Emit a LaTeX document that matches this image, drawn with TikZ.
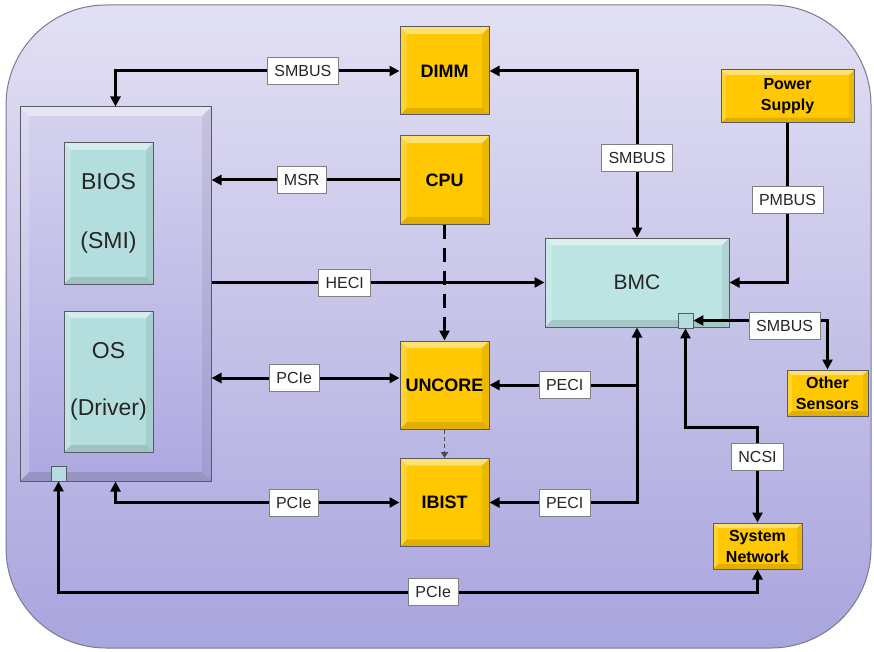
\documentclass[tikz,border=0pt]{standalone}
\usepackage{fontspec}
\setmainfont{Liberation Sans}
\usepackage{tikz}
\usetikzlibrary{shapes,arrows}
\usetikzlibrary{arrows.meta}

\definecolor{chipyellow}{HTML}{FFC800}
\definecolor{chipteal}{HTML}{B3DEDD}
\definecolor{bmcteal}{HTML}{BCE4E3}
\definecolor{bgtop}{HTML}{E2E0F3}
\definecolor{bgbot}{HTML}{A9A5DE}
\definecolor{bgedge}{HTML}{7C7A92}
\definecolor{hosttop}{HTML}{D5D2EF}
\definecolor{hostbot}{HTML}{ADA9E1}
\definecolor{edgegray}{HTML}{5A5A64}
\definecolor{textgray}{HTML}{262626}

\tikzset{
  bevel/.style={path picture={
    \fill[white,opacity=.45] (path picture bounding box.north west) -- (path picture bounding box.north east)
      -- ([shift={(-#1,-#1)}]path picture bounding box.north east) -- ([shift={(#1,-#1)}]path picture bounding box.north west) -- cycle;
    \fill[white,opacity=.2] (path picture bounding box.north west) -- ([shift={(#1,-#1)}]path picture bounding box.north west)
      -- ([shift={(#1,#1)}]path picture bounding box.south west) -- (path picture bounding box.south west) -- cycle;
    \fill[black,opacity=.12] (path picture bounding box.south west) -- ([shift={(#1,#1)}]path picture bounding box.south west)
      -- ([shift={(-#1,#1)}]path picture bounding box.south east) -- (path picture bounding box.south east) -- cycle;
    \fill[black,opacity=.07] (path picture bounding box.south east) -- ([shift={(-#1,#1)}]path picture bounding box.south east)
      -- ([shift={(-#1,-#1)}]path picture bounding box.north east) -- (path picture bounding box.north east) -- cycle;
  }},
  chip/.style={draw=edgegray, line width=1pt, fill=chipyellow, bevel=7pt, minimum width=89pt, minimum height=88pt,
    inner sep=0pt, align=center, text=black, font=\bfseries\fontsize{18}{21}\selectfont},
  smallchip/.style={chip, bevel=5pt, font=\bfseries\fontsize{16}{21}\selectfont},
  teal/.style={draw=edgegray, line width=1pt, fill=chipteal, bevel=7pt, inner sep=0pt, align=center, text=textgray},
  port/.style={draw=edgegray, line width=0.8pt, fill=chipteal, minimum size=15pt, inner sep=0pt},
  bus/.style={draw=gray, line width=0.8pt, fill=white, text=textgray, font=\fontsize{16}{18}\selectfont,
    inner xsep=7pt, inner ysep=0pt, minimum height=27pt},
  wire/.style={line width=3pt},
}

\begin{document}
\begin{tikzpicture}[x=1pt,y=-1pt,>={Triangle[length=10pt,width=10pt]}]

	\useasboundingbox (0,0) rectangle (874,652);

	% Draw background
	\draw[draw=bgedge, line width=1pt, rounded corners=100pt, top color=bgtop, bottom color=bgbot] (6,5) rectangle (871,648);

	% Draw host with BIOS and OS
	\node[draw=edgegray, line width=1pt, top color=hosttop, bottom color=hostbot, bevel=9pt,
		minimum width=191pt, minimum height=374pt] (host) at (115.5,294) {};
	\node[teal, minimum width=89pt, minimum height=141pt, font=\fontsize{23}{59}\selectfont] (bios) at (108.5,213.5) {BIOS\\(SMI)};
	\node[teal, minimum width=89pt, minimum height=141pt, font=\fontsize{23}{57}\selectfont] (os) at (108.5,381.5) {OS\\(Driver)};
	\node[port] (hostport) at (58.5,473.5) {};

	% Draw chips
	\node[chip] (dimm) at (444.5,71) {DIMM};
	\node[chip] (cpu) at (444.5,180) {CPU};
	\node[chip] (uncore) at (444.5,385) {UNCORE};
	\node[chip] (ibist) at (444.5,502.5) {IBIST};

	% Draw BMC and the parts round it
	\node[teal, fill=bmcteal, minimum width=184pt, minimum height=89pt, font=\fontsize{21}{24}\selectfont] (bmc) at (637,282.5) {BMC};
	\node[port] (bmcport) at (685.5,320.5) {};
	\node[smallchip, minimum width=133pt, minimum height=53pt] (psu) at (787.5,96.5) {Power\\Supply};
	\node[smallchip, minimum width=81pt, minimum height=46pt] (sensors) at (827.5,393) {Other\\Sensors};
	\node[smallchip, minimum width=89pt, minimum height=46pt] (network) at (757.5,546) {System\\Network};

	% Draw buses
	\draw[wire,<->] (dimm.west) -| (host.north) node[bus,pos=0.17]{SMBUS};
	\draw[wire,<->] (dimm.east) -| (bmc.north) node[bus,pos=0.76]{SMBUS};
	\draw[wire,->] (cpu.west) -- (host.east |- cpu.west) node[bus,pos=0.52]{MSR};
	\draw[wire,->] (host.east |- bmc.west) -- (bmc.west) node[bus,pos=0.4]{HECI};
	\coordinate (pcieA) at ([yshift=7pt]uncore.west);
	\draw[wire,<->] (pcieA) -- (host.east |- pcieA) node[bus,pos=0.56]{PCIe};
	\draw[wire,<->] (ibist.west) -| (host.south) node[bus,pos=0.186]{PCIe};

	% Draw dashed lines
	\draw[wire,->,dash pattern=on 14pt off 9pt] (cpu.south) -- (uncore.north);
	\draw[line width=1.5pt, draw=gray!60!black, dash pattern=on 4pt off 3pt, -{Triangle[length=6pt,width=7pt]}] (uncore.south) -- (ibist.north);

	% Draw PECI
	\draw[wire,<->] (bmc.south) |- (ibist.east) node[bus,pos=0.745]{PECI};
	\draw[wire,->] (bmc.south |- uncore.east) -- (uncore.east) node[bus,pos=0.49]{PECI};

	% Draw BMC links
	\draw[wire,->] (psu.south) |- (bmc.east) node[bus,pos=0.24]{PMBUS};
	\draw[wire,<->] (bmcport.east) -| (sensors.north) node[bus,pos=0.34,yshift=-5pt]{SMBUS};
	\coordinate (ncsiturn) at (757.5,427);
	\draw[wire,<->] (bmcport.south) |- (ncsiturn) -- node[bus,pos=0.31]{NCSI} (network.north);
	\coordinate (pciebend) at (58.5,592);
	\draw[wire,<->] (hostport.south) -- (pciebend) -| node[bus,pos=0.268]{PCIe} (network.south);

\end{tikzpicture}
\end{document}
